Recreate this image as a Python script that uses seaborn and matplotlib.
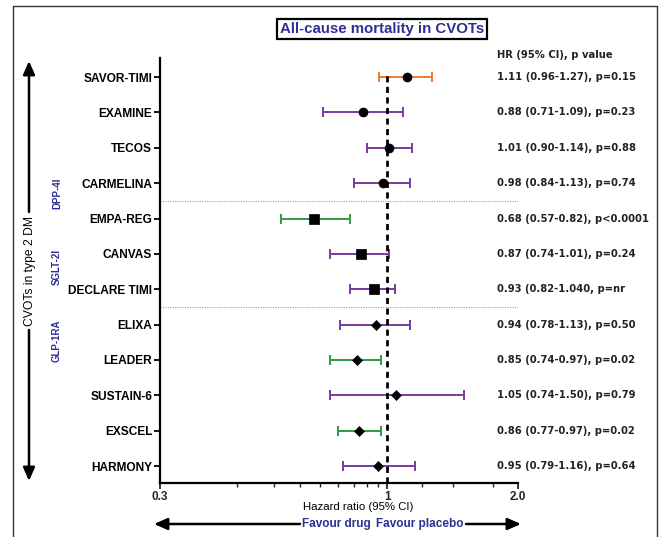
import numpy as np
import pandas as pd
import matplotlib
matplotlib.use("Agg")
import matplotlib.pyplot as plt
import matplotlib.transforms as mtransforms
from matplotlib.lines import Line2D
from matplotlib.patches import FancyArrowPatch
from matplotlib.ticker import FixedLocator, NullFormatter
import seaborn as sns

# ---------------- data ----------------
trials = ["SAVOR-TIMI", "EXAMINE", "TECOS", "CARMELINA", "EMPA-REG", "CANVAS",
          "DECLARE TIMI", "ELIXA", "LEADER", "SUSTAIN-6", "EXSCEL", "HARMONY"]
groups = ["DPP-4I", "DPP-4I", "DPP-4I", "DPP-4I", "SGLT-2I", "SGLT-2I", "SGLT-2I",
          "GLP-1RA", "GLP-1RA", "GLP-1RA", "GLP-1RA", "GLP-1RA"]
hr = [1.11, 0.88, 1.01, 0.98, 0.68, 0.87, 0.93, 0.94, 0.85, 1.05, 0.86, 0.95]
ci_low = [0.96, 0.71, 0.90, 0.84, 0.57, 0.74, 0.82, 0.78, 0.74, 0.74, 0.77, 0.79]
ci_high = [1.27, 1.09, 1.14, 1.13, 0.82, 1.01, 1.04, 1.13, 0.97, 1.50, 0.97, 1.16]
ci_color = ["orange", "purple", "purple", "purple", "green", "purple", "purple",
            "purple", "green", "purple", "green", "purple"]
annotations = ["1.11 (0.96-1.27), p=0.15", "0.88 (0.71-1.09), p=0.23",
               "1.01 (0.90-1.14), p=0.88", "0.98 (0.84-1.13), p=0.74",
               "0.68 (0.57-0.82), p<0.0001", "0.87 (0.74-1.01), p=0.24",
               "0.93 (0.82-1.040, p=nr", "0.94 (0.78-1.13), p=0.50",
               "0.85 (0.74-0.97), p=0.02", "1.05 (0.74-1.50), p=0.79",
               "0.86 (0.77-0.97), p=0.02", "0.95 (0.79-1.16), p=0.64"]
x_ticks = [0.3, 1, 2.0]
x_tick_labels = ["0.3", "1", "2.0"]

df = pd.DataFrame({"trial": trials, "group": groups, "hr": hr,
                   "lo": ci_low, "hi": ci_high, "col": ci_color,
                   "note": annotations})
df["pos"] = np.arange(len(df))

# ---------------- style ----------------
sns.set_style("ticks")
plt.rcParams["font.family"] = ["Liberation Sans", "DejaVu Sans"]

palette = {"orange": "#f07a2c", "purple": "#7b3a9e", "green": "#2f9a3f"}
markers = {"DPP-4I": "o", "SGLT-2I": "s", "GLP-1RA": "D"}
msizes = {"DPP-4I": 42, "SGLT-2I": 52, "GLP-1RA": 26}
blue = "#2e2e96"

W, H = 659, 537
fig = plt.figure(figsize=(W / 100, H / 100), dpi=100)
ax = fig.add_axes([160 / W, 54 / H, 358 / W, 425 / H])

def fx(px):
    return px / W

def fy(py):
    return 1 - py / H

# confidence intervals
for _, r in df.iterrows():
    ax.errorbar(r["hr"], r["pos"], xerr=[[r["hr"] - r["lo"]], [r["hi"] - r["hr"]]],
                fmt="none", ecolor=palette[r["col"]], elinewidth=1.4,
                capsize=3.6, capthick=1.4, zorder=2)

# null line
ax.axvline(1, ymin=0, ymax=0.965, color="black", linestyle=(0, (2.2, 1.6)),
           linewidth=2.0, zorder=3)

# points
for g, sub in df.groupby("group", sort=False):
    sns.scatterplot(data=sub, x="hr", y="pos", marker=markers[g], s=msizes[g],
                    color="black", edgecolor="black", linewidth=0.5, ax=ax,
                    zorder=4, legend=False)

# group separators
for b in [3.5, 6.5]:
    ax.axhline(b, color="#a0a0a0", linestyle=(0, (1, 1.2)), linewidth=0.8, zorder=1)

ax.set_xscale("log")
ax.set_xlim(0.3, 2.0)
ax.set_ylim(len(df) - 0.52, -0.54)

ax.set_xticks(x_ticks)
ax.set_xticklabels(x_tick_labels, fontsize=8.5, fontweight="bold")
ax.xaxis.set_minor_locator(FixedLocator([0.45, 0.55, 0.63, 0.7, 0.77, 0.84, 0.9,
                                         0.95, 1.2, 1.42, 1.75]))
ax.xaxis.set_minor_formatter(NullFormatter())
ax.set_yticks(df["pos"])
ax.set_yticklabels(df["trial"], fontsize=8.6, fontweight="bold")
ax.tick_params(axis="y", length=4, width=1.3, pad=1.5, colors="black")
ax.tick_params(axis="x", which="major", length=4, width=1.3, pad=1.5)
ax.tick_params(axis="x", which="minor", length=3, width=1.0)
ax.set_xlabel("")
ax.set_ylabel("")
sns.despine(ax=ax)
for s in ["left", "bottom"]:
    ax.spines[s].set_linewidth(1.6)
    ax.spines[s].set_color("black")

# right-hand annotation column
trans = mtransforms.blended_transform_factory(fig.transFigure, ax.transData)
for _, r in df.iterrows():
    ax.text(fx(497), r["pos"], r["note"], transform=trans, ha="left", va="center",
            fontsize=7.2, fontweight="bold", family="DejaVu Sans", color="#222222")
fig.text(fx(497), fy(55), "HR (95% CI), p value", ha="left", va="center",
         fontsize=7.2, fontweight="bold", family="DejaVu Sans", color="#222222")

# title
fig.text(fx(382), fy(29), "All-cause mortality in CVOTs", ha="center", va="center",
         fontsize=10.8, fontweight="bold", color=blue,
         bbox=dict(boxstyle="square,pad=0.18", facecolor="white",
                   edgecolor="black", linewidth=1.6))

# group labels
for label, ypx in [("DPP-4I", 193), ("SGLT-2I", 267), ("GLP-1RA", 341)]:
    fig.text(fx(57), fy(ypx), label, rotation=90, ha="center", va="center",
             fontsize=7, fontweight="bold", color=blue)

# left vertical arrow with caption
fig.text(fx(30), fy(271), "CVOTs in type 2 DM", rotation=90, ha="center",
         va="center", fontsize=8.7, color="black")
arrowprops = dict(arrowstyle="-|>,head_length=0.5,head_width=0.22", color="black",
                  linewidth=1.8, shrinkA=0, shrinkB=0, mutation_scale=16)
fig.add_artist(FancyArrowPatch((fx(29), fy(212)), (fx(29), fy(61)),
               transform=fig.transFigure, **arrowprops))
fig.add_artist(FancyArrowPatch((fx(29), fy(330)), (fx(29), fy(481)),
               transform=fig.transFigure, **arrowprops))

# x axis caption and favour arrows
fig.text(fx(358), fy(507), "Hazard ratio (95% CI)", ha="center", va="center",
         fontsize=8.2, color="black")
fig.text(fx(336), fy(524), "Favour drug", ha="center", va="center",
         fontsize=8.5, fontweight="bold", color=blue)
fig.text(fx(420), fy(524), "Favour placebo", ha="center", va="center",
         fontsize=8.5, fontweight="bold", color=blue)
fig.add_artist(FancyArrowPatch((fx(300), fy(524)), (fx(154), fy(524)),
               transform=fig.transFigure, **arrowprops))
fig.add_artist(FancyArrowPatch((fx(466), fy(524)), (fx(521), fy(524)),
               transform=fig.transFigure, **arrowprops))

# outer frame
for (x0, y0, x1, y1) in [(13, 6, 657, 6), (13, 6, 13, 540), (657, 6, 657, 540)]:
    fig.add_artist(Line2D([fx(x0), fx(x1)], [fy(y0), fy(y1)], color="#333333",
                          linewidth=1.0, transform=fig.transFigure))

fig.savefig("out.png", dpi=100)
